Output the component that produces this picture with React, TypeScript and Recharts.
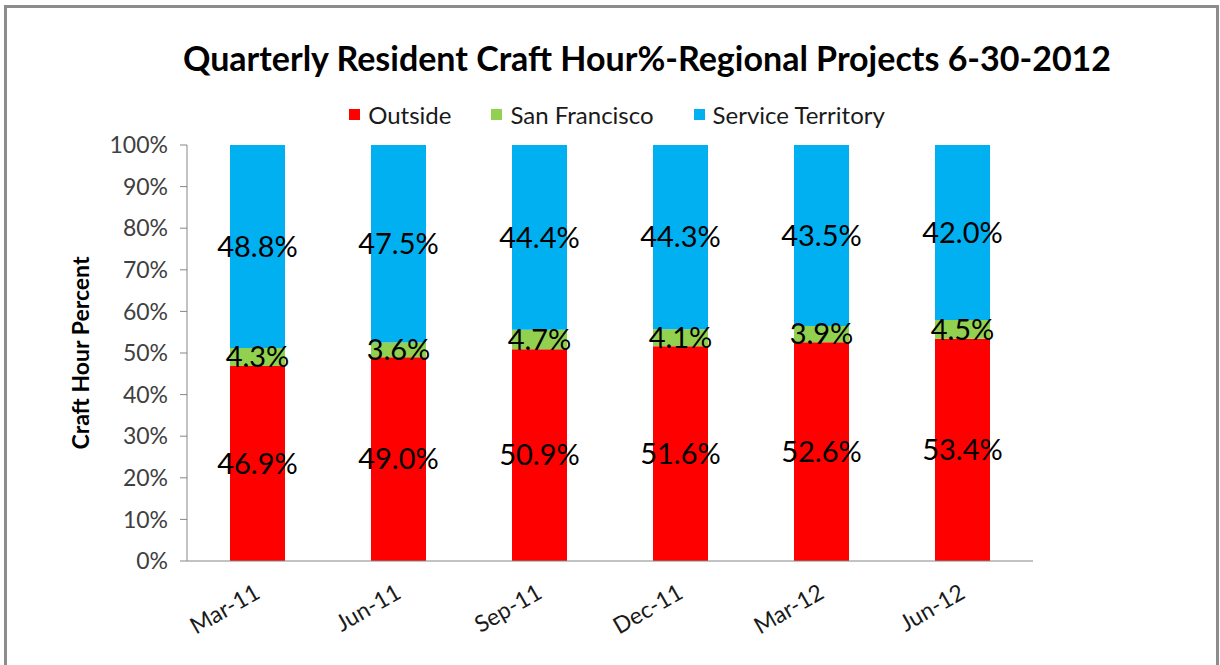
import React from 'react';
import { BarChart, Bar, XAxis, YAxis, LabelList } from 'recharts';

const quarters = ['Mar-11', 'Jun-11', 'Sep-11', 'Dec-11', 'Mar-12', 'Jun-12'];
const outside = [46.9, 49.0, 50.9, 51.6, 52.6, 53.4];
const sanFrancisco = [4.3, 3.6, 4.7, 4.1, 3.9, 4.5];
const serviceTerritory = [48.8, 47.5, 44.4, 44.3, 43.5, 42.0];
const yTicks = [0, 0.1, 0.2, 0.3, 0.4, 0.5, 0.6, 0.7, 0.8, 0.9, 1];

const data = quarters.map((q, i) => ({
  name: q,
  outside: outside[i],
  sanFrancisco: sanFrancisco[i],
  serviceTerritory: serviceTerritory[i],
}));

const FONT = 'Lato, "Open Sans", sans-serif';
const RED = '#FF0000';
const GREEN = '#92D050';
const BLUE = '#00B0F0';

const legendItems = [
  { label: 'Outside', color: RED },
  { label: 'San Francisco', color: GREEN },
  { label: 'Service Territory', color: BLUE },
];

const XTick = ({ x, y, payload }: any) => (
  <text transform={`translate(${x + 4},${y + 28}) rotate(-30)`} textAnchor="end" fontSize={23} fill="#1a1a1a" fontFamily={FONT}>
    {payload.value}
  </text>
);

const YLabel = ({ viewBox }: any) => {
  const cx = viewBox.x + 80;
  const cy = viewBox.y + viewBox.height / 2;
  return (
    <text x={cx} y={cy} textAnchor="middle" dominantBaseline="central" transform={`rotate(-90, ${cx}, ${cy})`}
      fontSize={23} fontWeight="bold" fill="#000" fontFamily={FONT}>
      Craft Hour Percent
    </text>
  );
};

const fmt = (v: any) => `${Number(v).toFixed(1)}%`;

const App: React.FC = () => {
  return (
    <div style={{ position: 'absolute', left: 0, top: 0, width: 1220, height: 665, background: '#fff', overflow: 'hidden', fontFamily: FONT }}>
      <div style={{ position: 'absolute', left: 4, top: 5, width: 1215, height: 700, border: '3px solid #8c8c8c', boxSizing: 'border-box' }} />
      <div style={{ position: 'absolute', left: 0, width: 1294, top: 37, textAlign: 'center', fontSize: 34, fontWeight: 'bold', color: '#000', whiteSpace: 'nowrap' }}>
        Quarterly Resident Craft Hour%-Regional Projects 6-30-2012
      </div>
      <div style={{ position: 'absolute', left: 0, width: 1234, top: 100, display: 'flex', justifyContent: 'center', fontSize: 24, color: '#1a1a1a' }}>
        {legendItems.map((it) => (
          <div key={it.label} style={{ display: 'flex', alignItems: 'center', margin: '0 20px' }}>
            <span style={{ display: 'inline-block', width: 11, height: 11, background: it.color, marginRight: 8 }} />
            <span>{it.label}</span>
          </div>
        ))}
      </div>
      <div style={{ position: 'absolute', left: 0, top: 0 }}>
        <BarChart width={1220} height={665} data={data} stackOffset="expand" barSize={55}
          margin={{ top: 145, right: 187, left: 0, bottom: 0 }}>
          <XAxis dataKey="name" height={104} tickLine={false} axisLine={{ stroke: '#868686' }} tick={<XTick />} interval={0} />
          <YAxis width={187} domain={[0, 1]} ticks={yTicks} tickFormatter={(v: number) => `${Math.round(v * 100)}%`}
            axisLine={{ stroke: '#868686' }} tickLine={{ stroke: '#868686' }} tickSize={7}
            tick={{ fontSize: 23, fill: '#404040', fontFamily: FONT, dx: -10 }} label={<YLabel />} />
          <Bar dataKey="outside" stackId="a" fill={RED} isAnimationActive={false}>
            <LabelList dataKey="outside" position="center" formatter={fmt} fill="#000" fontSize={29} fontFamily={FONT} />
          </Bar>
          <Bar dataKey="sanFrancisco" stackId="a" fill={GREEN} isAnimationActive={false}>
            <LabelList dataKey="sanFrancisco" position="center" formatter={fmt} fill="#000" fontSize={29} fontFamily={FONT} />
          </Bar>
          <Bar dataKey="serviceTerritory" stackId="a" fill={BLUE} isAnimationActive={false}>
            <LabelList dataKey="serviceTerritory" position="center" formatter={fmt} fill="#000" fontSize={29} fontFamily={FONT} />
          </Bar>
        </BarChart>
      </div>
    </div>
  );
};

export default App;
